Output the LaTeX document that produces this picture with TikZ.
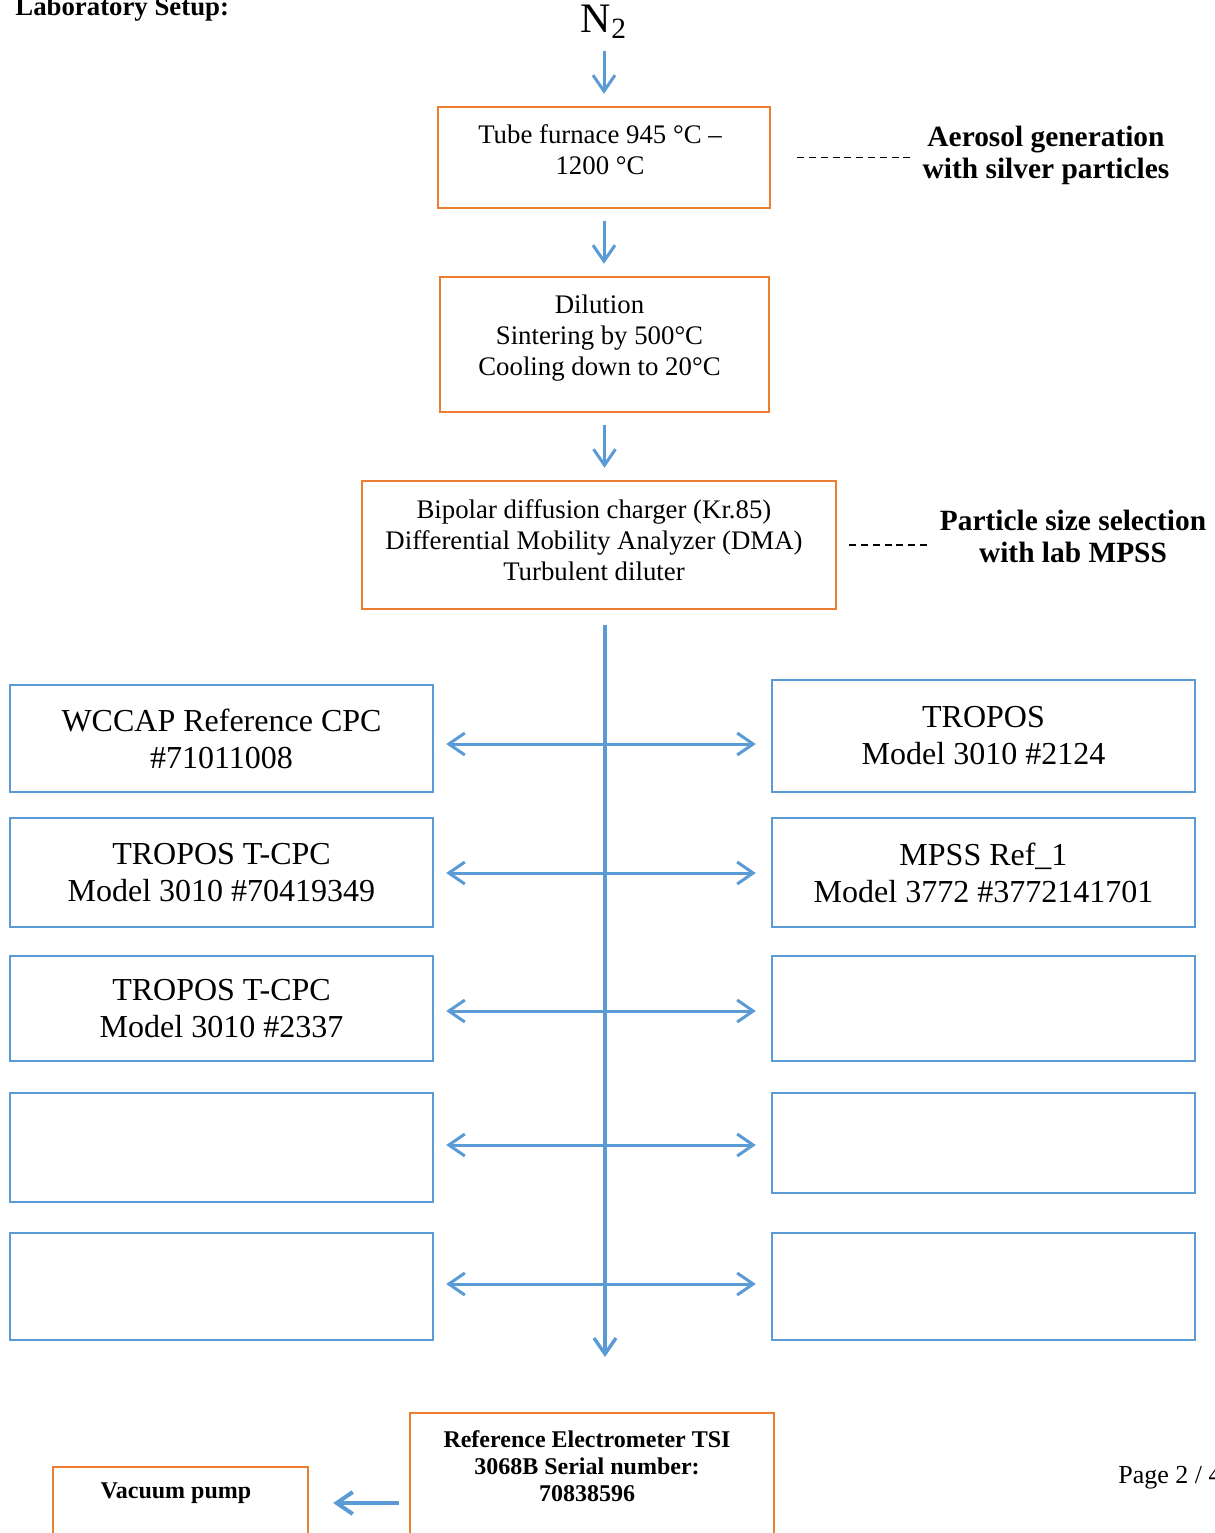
\documentclass[tikz,border=0pt]{standalone}
\usepackage{fontspec}
\setmainfont{Liberation Serif}
\usetikzlibrary{arrows.meta,positioning}
\definecolor{boxorange}{HTML}{ED7D31}
\definecolor{flowblue}{HTML}{5B9BD5}

\begin{document}
\begin{tikzpicture}[x=0.5pt,y=-0.5pt,>={Straight Barb[length=8pt,width=11pt]},
    orange box/.style={draw=boxorange,line width=1.2pt,inner sep=0pt},
    blue box/.style={draw=flowblue,line width=1.2pt,inner sep=0pt,minimum width=211.5pt,
                     align=center,font=\fontsize{16}{18.5}\selectfont},
    box text/.style={align=center,inner sep=0pt,font=\fontsize{13.4}{15.5}\selectfont},
    side text/.style={align=center,inner sep=0pt,font=\fontsize{14.7}{16}\selectfont\bfseries},
    flow/.style={->,draw=flowblue,line width=1.5pt,shorten <=6pt,shorten >=6pt},
    link/.style={<->,draw=flowblue,line width=1.5pt,shorten <=6pt,shorten >=7.5pt},
    guide/.style={draw=black,line width=0.8pt,dash pattern=on 3.5pt off 2.4pt}]
  \clip (0,0) rectangle (1215,1533);
  \path[use as bounding box] (0,0) rectangle (1215,1533);

  % heading and page number
  \node[anchor=base west,inner sep=0pt,font=\fontsize{13.4}{15}\selectfont\bfseries] (title) at (15,15) {Laboratory Setup:};
  \node[anchor=base west,inner sep=0pt,font=\fontsize{13}{15}\selectfont] (page) at (1118,1483) {Page 2 / 4};

  % aerosol line
  \node[inner sep=0pt,font=\fontsize{21}{24}\selectfont] (nitrogen) at (604,22) {N\textsubscript{2}};
  \node[orange box,minimum width=166pt,minimum height=50.5pt] (furnace) at (604,157.5) {};
  \node[box text] (furnacetext) at (600,149.5) {Tube furnace 945 °C –\\1200 °C};
  \node[orange box,minimum width=164.5pt,minimum height=67.5pt] (dilution) at (604.5,344.5) {};
  \node[box text] (dilutiontext) at (599.5,338) {Dilution\\Sintering by 500°C\\Cooling down to 20°C};
  \node[orange box,minimum width=237pt,minimum height=64pt] (dma) at (599,545) {};
  \node[box text] (dmatext) at (594,540) {Bipolar diffusion charger (Kr.85)\\Differential Mobility Analyzer (DMA)\\Turbulent diluter};

  \draw[flow] (nitrogen.south) -- (nitrogen.south |- furnace.north);
  \draw[flow] (furnace.south) -- (furnace.south |- dilution.north);
  \draw[flow] (dilution.south) -- (dilution.south |- dma.north);

  % side notes
  \node[side text] (aerosol) at (1046,155) {Aerosol generation\\with silver particles};
  \node[side text] (sizing) at (1073,536.5) {Particle size selection\\with lab MPSS};
  \draw[guide,shorten <=13pt,shorten >=4.5pt] (furnace.east) -- (furnace.east -| aerosol.west);
  \draw[guide,shorten <=6pt,shorten >=6.5pt] (dma.east) -- (dma.east -| sizing.west);

  % counters on both sides of the trunk
  \foreach \i/\y/\h/\t in {1/738.5/53.5/{WCCAP Reference CPC\\\#71011008},
                           2/872.5/54.5/{TROPOS T-CPC\\Model 3010 \#70419349},
                           3/1008.5/52.5/{TROPOS T-CPC\\Model 3010 \#2337},
                           4/1147.5/54.5/{},
                           5/1286.5/53.5/{}}
    \node[blue box,minimum height=\h pt] (left\i) at (221.5,\y) {\t};
  \foreach \i/\y/\h/\t in {1/736/56/{TROPOS\\Model 3010 \#2124},
                           2/872.5/54.5/{MPSS Ref\_1\\Model 3772 \#3772141701},
                           3/1008.5/52.5/{},
                           4/1143/50/{},
                           5/1286.5/53.5/{}}
    \node[blue box,minimum height=\h pt] (right\i) at (983.5,\y) {\t};

  \coordinate (trunktop) at (605,625);
  \coordinate (trunkend) at (605,1357);
  \draw[->,draw=flowblue,line width=1.7pt] (trunktop) -- (trunkend);
  \foreach \i/\y in {1/744,2/873,3/1011,4/1145,5/1284} {
    \coordinate (tap\i) at (605,\y);
    \draw[link] (tap\i -| left\i.east) -- (tap\i -| right\i.west);
  }

  % electrometer and pump
  \node[orange box,minimum width=182pt,minimum height=90pt] (electrometer) at (592,1503) {};
  \node[box text,font=\fontsize{12}{13.5}\selectfont\bfseries] (electrotext) at (587,1466)
    {Reference Electrometer TSI\\3068B Serial number:\\70838596};
  \node[orange box,minimum width=127.5pt,minimum height=36pt] (pump) at (180.5,1503) {};
  \node[box text,font=\fontsize{12}{13.5}\selectfont\bfseries] (pumptext) at (176,1493) {Vacuum pump};
  \draw[->,draw=flowblue,line width=2pt,shorten <=5pt,shorten >=12pt] (electrometer.west |- pump.east) -- (pump.east);
\end{tikzpicture}
\end{document}
